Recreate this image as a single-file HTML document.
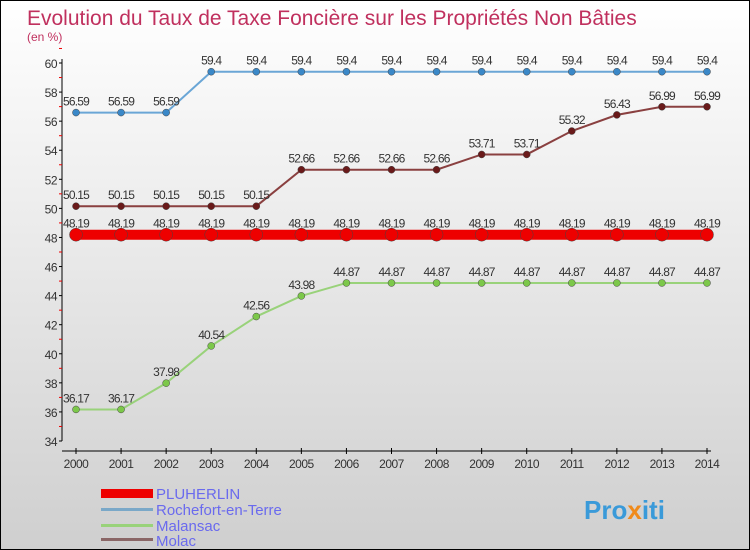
<!DOCTYPE html>
<html><head><meta charset="utf-8"><style>
body{margin:0}
#c{width:750px;height:550px;position:relative;box-sizing:border-box;border:1px solid #000;background:linear-gradient(#fff,#cfcfcf);font-family:"Liberation Sans",sans-serif;overflow:hidden}
</style></head><body>
<div id="c">
<svg id="s" width="750" height="550" style="position:absolute;left:0;top:0">
<text x="26" y="24" font-size="21" fill="#c0305e">Evolution du Taux de Taxe Foncière sur les Propriétés Non Bâties</text>
<text x="26" y="40" font-size="12" fill="#c0305e">(en %)</text>
<g id="axes"></g><g id="series"></g>
<g>
<rect x="100" y="488" width="52" height="9" fill="#e00"/>
<text x="155" y="498" font-size="15" fill="#6a6aee">PLUHERLIN</text>
<rect x="100" y="507" width="52" height="3" fill="#7aa8c8"/>
<text x="155" y="514" font-size="15" fill="#6a6aee">Rochefort-en-Terre</text>
<rect x="100" y="523" width="52" height="3" fill="#99d27a"/>
<text x="155" y="530" font-size="15" fill="#6a6aee">Malansac</text>
<rect x="100" y="537" width="52" height="3" fill="#8a6666"/>
<text x="155" y="545" font-size="15" fill="#6a6aee">Molac</text>
</g>
<text x="583" y="518" font-size="26" font-weight="bold" fill="#3a9ad9">Pro<tspan fill="#f08a1a">x</tspan>iti</text>
</svg>
</div>
<script>
const years=[2000,2001,2002,2003,2004,2005,2006,2007,2008,2009,2010,2011,2012,2013,2014];
const pluherlin=[48.19,48.19,48.19,48.19,48.19,48.19,48.19,48.19,48.19,48.19,48.19,48.19,48.19,48.19,48.19];
const rochefort=[56.59,56.59,56.59,59.4,59.4,59.4,59.4,59.4,59.4,59.4,59.4,59.4,59.4,59.4,59.4];
const malansac=[36.17,36.17,37.98,40.54,42.56,43.98,44.87,44.87,44.87,44.87,44.87,44.87,44.87,44.87,44.87];
const molac=[50.15,50.15,50.15,50.15,50.15,52.66,52.66,52.66,52.66,53.71,53.71,55.32,56.43,56.99,56.99];
const yTicks=[34,36,38,40,42,44,46,48,50,52,54,56,58,60];
const NS="http://www.w3.org/2000/svg";
const X=i=>75+i*(706-75)/(years.length-1);
const Y=v=>440-(v-34)*(440-62)/26;
function mk(p,t,a){const e=document.createElementNS(NS,t);for(const k in a)e.setAttribute(k,a[k]);p.appendChild(e);return e;}
const ax=document.getElementById('axes'),sg=document.getElementById('series');
let l=mk(ax,'line',{x1:61,y1:58,x2:61,y2:440,stroke:'#000'});


l=mk(ax,'line',{x1:61,y1:450,x2:710,y2:450,stroke:'#000'});


yTicks.forEach(v=>{mk(ax,'line',{x1:58,x2:61,y1:Y(v),y2:Y(v),stroke:'#000'});
mk(ax,'line',{x1:58,x2:61,y1:Y(v+1),y2:Y(v+1),stroke:'#e00'});
const t=mk(ax,'text',{x:56,y:Y(v)+5,'font-size':12,'text-anchor':'end',fill:'#333','letter-spacing':'-0.5'});t.textContent=v;

});
years.forEach((yr,i)=>{mk(ax,'line',{x1:X(i),x2:X(i),y1:447,y2:453,stroke:'#000'});
const t=mk(ax,'text',{x:X(i),y:467,'font-size':12,'text-anchor':'middle',fill:'#333','letter-spacing':'-0.5'});t.textContent=yr;

});
function series(name,arr,color,dot,w,r){
const g=mk(sg,'g',{});


mk(g,'polyline',{points:arr.map((v,i)=>X(i)+','+Y(v)).join(' '),fill:'none',stroke:color,'stroke-width':w});
arr.forEach((v,i)=>{const c=mk(g,'circle',{cx:X(i),cy:Y(v),r:r,fill:dot,stroke:'#444','stroke-width':0.5});


const t=mk(g,'text',{x:X(i),y:Y(v)-7,'font-size':12,'text-anchor':'middle',fill:'#333','letter-spacing':'-0.8'});t.textContent=v;

});}
series('rochefort',rochefort,'#6aa6d6','#3a88c8',2,3.5);
series('molac',molac,'#8a4040','#6a1a1a',2,3.5);
series('malansac',malansac,'#99d27a','#7cc84a',2,3.5);
series('pluherlin',pluherlin,'#ee0000','#ee0000',10,6.5);
</script>
</body></html>
